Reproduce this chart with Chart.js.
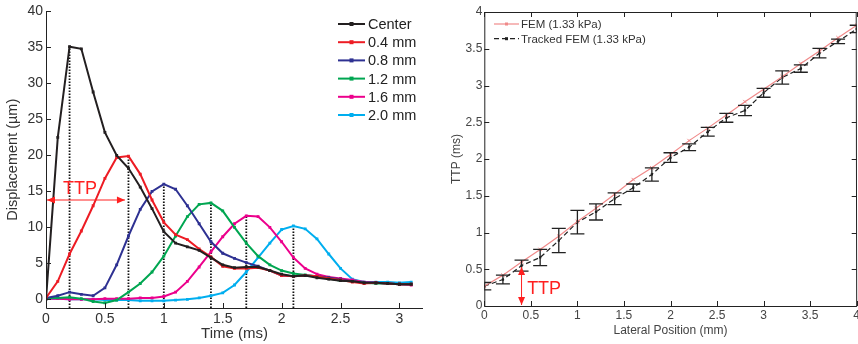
<!DOCTYPE html>
<html>
<head>
<meta charset="utf-8">
<script src="https://cdn.jsdelivr.net/npm/chart.js@4.4.1/dist/chart.umd.min.js"></script>
<style>
html, body { margin: 0; padding: 0; background: #fff; width: 858px; height: 344px; overflow: hidden; }
.box { position: absolute; top: 0; height: 344px; }
#leftBox { left: 0; width: 436px; }
#rightBox { left: 440px; width: 430px; }
</style>
</head>
<body>
<div id="leftBox" class="box"><canvas id="leftChart"></canvas></div>
<div id="rightBox" class="box"><canvas id="rightChart"></canvas></div>
<script>
// ---- left panel: displacement vs time ----
const timeMs = [0, 0.1, 0.2, 0.3, 0.4, 0.5, 0.6, 0.7, 0.8, 0.9, 1.0, 1.1, 1.2, 1.3, 1.4, 1.5,
                1.6, 1.7, 1.8, 1.9, 2.0, 2.1, 2.2, 2.3, 2.4, 2.5, 2.6, 2.7, 2.8, 2.9, 3.0, 3.1];
const dispCenter = [0, 22.5, 35.1, 34.8, 28.8, 23.2, 20.0, 18.2, 15.6, 12.6, 9.4, 7.8, 7.3, 6.8, 5.8, 4.8,
                    4.4, 4.5, 4.5, 4.0, 3.5, 3.2, 3.3, 3.0, 2.8, 2.6, 2.5, 2.3, 2.3, 2.2, 2.1, 2.1];
const disp04 = [0.2, 2.5, 6.3, 9.5, 13.0, 16.8, 19.7, 19.9, 17.4, 13.8, 10.7, 9.0, 8.3, 7.0, 5.9, 4.6,
                4.3, 4.3, 4.4, 4.0, 3.3, 3.2, 3.3, 3.2, 2.9, 2.7, 2.4, 2.2, 2.3, 2.2, 2.1, 2.1];
const disp08 = [0.2, 0.5, 1.0, 0.7, 0.5, 1.6, 4.8, 8.8, 12.5, 15.0, 16.0, 15.3, 13.0, 10.5, 8.0, 6.4,
                5.7, 5.1, 4.6, 4.0, 3.3, 3.2, 3.3, 3.2, 3.0, 2.8, 2.5, 2.3, 2.3, 2.2, 2.1, 2.1];
const disp12 = [0.2, 0.2, 0.3, 0.1, -0.3, -0.5, -0.1, 1.0, 2.2, 3.8, 6.0, 8.8, 11.5, 13.2, 13.4, 12.3,
                10.0, 7.8, 6.0, 4.8, 4.0, 3.6, 3.4, 3.2, 2.9, 2.6, 2.5, 2.3, 2.2, 2.2, 2.1, 2.1];
const disp16 = [0.1, 0.1, 0.0, 0.0, 0.0, 0.1, 0.1, 0.1, 0.2, 0.2, 0.4, 1.0, 2.5, 4.5, 6.6, 8.7,
                10.5, 11.6, 11.5, 10.0, 8.0, 5.8, 4.3, 3.5, 3.1, 2.9, 2.7, 2.4, 2.3, 2.2, 2.1, 2.0];
const disp20 = [0.1, 0.1, 0.0, 0.0, 0.0, -0.1, -0.1, -0.1, -0.2, -0.2, -0.2, -0.1, 0.0, 0.2, 0.5, 0.9,
                2.0, 3.8, 5.8, 7.8, 9.7, 10.2, 9.8, 8.4, 6.3, 4.3, 2.8, 2.4, 2.4, 2.4, 2.3, 2.4];
const seriesNames = ['Center', '0.4 mm', '0.8 mm', '1.2 mm', '1.6 mm', '2.0 mm'];
const seriesColors = ['#231f20', '#ed1c24', '#2e3192', '#00a651', '#ec008c', '#00aeef'];
const seriesValues = [dispCenter, disp04, disp08, disp12, disp16, disp20];
const peakTimes = [0.2, 0.7, 1.0, 1.4, 1.7, 2.1];
const xTicksLeft = [0, 0.5, 1, 1.5, 2, 2.5, 3];
const yTicksLeft = [0, 5, 10, 15, 20, 25, 30, 35, 40];

// ---- right panel: TTP vs lateral position ----
const lateralPos = [0, 0.2, 0.4, 0.6, 0.8, 1.0, 1.2, 1.4, 1.6, 1.8, 2.0, 2.2, 2.4, 2.6, 2.8, 3.0, 3.2, 3.4, 3.6, 3.8, 4.0];
const femTtp = [0.27, 0.42, 0.60, 0.77, 0.95, 1.15, 1.33, 1.52, 1.72, 1.88, 2.06, 2.25, 2.42, 2.60, 2.78, 2.95, 3.12, 3.30, 3.47, 3.65, 3.82];
const trackedTtp = [0.27, 0.36, 0.55, 0.66, 0.89, 1.14, 1.28, 1.46, 1.61, 1.79, 2.02, 2.16, 2.37, 2.56, 2.66, 2.90, 3.11, 3.23, 3.44, 3.60, 3.77];
const trackedErr = [0.05, 0.06, 0.075, 0.11, 0.165, 0.16, 0.11, 0.08, 0.05, 0.09, 0.065, 0.045, 0.06, 0.06, 0.07, 0.06, 0.09, 0.05, 0.065, 0.03, 0.05];
const xTicksRight = [0, 0.5, 1, 1.5, 2, 2.5, 3, 3.5, 4];
const yTicksRight = [0, 0.5, 1, 1.5, 2, 2.5, 3, 3.5, 4];

const FONT = '"Liberation Sans", Arial, sans-serif';
const TTP_RED = '#ff2020';

function pts(xs, ys) {
  return xs.map((x, i) => ({ x: x, y: ys[i] }));
}

function drawArrow(ctx, x1, y1, x2, y2, len, half) {
  const ang = Math.atan2(y2 - y1, x2 - x1);
  ctx.beginPath();
  ctx.moveTo(x1, y1);
  ctx.lineTo(x2, y2);
  ctx.stroke();
  [[x1, y1, ang + Math.PI], [x2, y2, ang]].forEach(([px, py, a]) => {
    ctx.beginPath();
    ctx.moveTo(px, py);
    ctx.lineTo(px - len * Math.cos(a) + half * Math.sin(a), py - len * Math.sin(a) - half * Math.cos(a));
    ctx.lineTo(px - len * Math.cos(a) - half * Math.sin(a), py - len * Math.sin(a) + half * Math.cos(a));
    ctx.closePath();
    ctx.fill();
  });
}

// axis lines plus inward tick marks, matlab style
const axesFrame = {
  id: 'axesFrame',
  afterDraw(chart, args, opts) {
    const { ctx, chartArea: a, scales: { x, y } } = chart;
    const len = 5;
    ctx.save();
    ctx.strokeStyle = '#222';
    ctx.lineWidth = 1;
    ctx.beginPath();
    ctx.moveTo(a.left + 0.5, a.top);
    ctx.lineTo(a.left + 0.5, a.bottom + 0.5);
    ctx.lineTo(a.right, a.bottom + 0.5);
    if (opts.box) {
      ctx.lineTo(a.right - 0.5, a.top + 0.5);
      ctx.lineTo(a.left + 0.5, a.top + 0.5);
    }
    x.ticks.forEach(t => {
      const px = Math.round(x.getPixelForValue(t.value)) + 0.5;
      ctx.moveTo(px, a.bottom);
      ctx.lineTo(px, a.bottom - len);
      if (opts.box) { ctx.moveTo(px, a.top); ctx.lineTo(px, a.top + len); }
    });
    y.ticks.forEach(t => {
      const py = Math.round(y.getPixelForValue(t.value)) + 0.5;
      ctx.moveTo(a.left, py);
      ctx.lineTo(a.left + len, py);
      if (opts.box) { ctx.moveTo(a.right, py); ctx.lineTo(a.right - len, py); }
    });
    ctx.stroke();
    ctx.restore();
  }
};

// legend and TTP note for the left panel
const leftNotes = {
  id: 'leftNotes',
  afterDraw(chart) {
    const { ctx, scales: { x, y } } = chart;
    ctx.save();
    // TTP arrow
    ctx.strokeStyle = TTP_RED;
    ctx.fillStyle = TTP_RED;
    ctx.lineWidth = 1;
    const ay = y.getPixelForValue(13.8);
    drawArrow(ctx, x.getPixelForValue(0) + 1, ay, x.getPixelForValue(0.67), ay, 8, 3.5);
    ctx.font = '18px ' + FONT;
    ctx.textBaseline = 'alphabetic';
    ctx.fillText('TTP', x.getPixelForValue(0.145), y.getPixelForValue(14.6));
    // legend
    ctx.font = '14.5px ' + FONT;
    ctx.textBaseline = 'middle';
    seriesNames.forEach((name, i) => {
      const ry = 24 + i * 18.2;
      ctx.strokeStyle = seriesColors[i];
      ctx.fillStyle = seriesColors[i];
      ctx.lineWidth = 2;
      ctx.beginPath();
      ctx.moveTo(338, ry);
      ctx.lineTo(365, ry);
      ctx.stroke();
      ctx.fillRect(349.5, ry - 2, 4, 4);
      ctx.fillStyle = '#222';
      ctx.fillText(name, 368, ry + 1);
    });
    ctx.restore();
  }
};

const leftDatasets = seriesValues.map((vals, i) => ({
  label: seriesNames[i],
  data: pts(timeMs, vals),
  borderColor: seriesColors[i],
  backgroundColor: seriesColors[i],
  borderWidth: 2,
  pointStyle: 'rect',
  pointRadius: 2,
  pointBorderWidth: 0,
  tension: 0
}));
peakTimes.forEach((t, i) => {
  const k = timeMs.indexOf(t);
  leftDatasets.push({
    label: 'peak ' + seriesNames[i],
    data: [{ x: t, y: -1.2 }, { x: t, y: seriesValues[i][k] }],
    borderColor: '#111',
    borderWidth: 1.8,
    borderDash: [1.5, 1.5],
    pointRadius: 0
  });
});

new Chart(document.getElementById('leftChart'), {
  type: 'line',
  data: { datasets: leftDatasets },
  options: {
    responsive: true,
    maintainAspectRatio: false,
    animation: false,
    layout: { padding: { left: 0, top: 9, right: 13, bottom: 0 } },
    plugins: {
      legend: { display: false },
      tooltip: { enabled: false },
      axesFrame: { box: false }
    },
    scales: {
      x: {
        type: 'linear',
        min: 0,
        max: 3.2,
        afterBuildTicks: s => { s.ticks = xTicksLeft.map(v => ({ value: v })); },
        afterFit: s => { s.height = 36; },
        grid: { display: false, drawTicks: false },
        border: { display: false },
        ticks: { padding: 3, color: '#333', font: { family: FONT, size: 14 }, callback: v => String(v), maxRotation: 0 },
        title: { display: true, text: 'Time (ms)', color: '#333', font: { family: FONT, size: 15 }, padding: { top: 0, bottom: 1 } }
      },
      y: {
        min: -1.2,
        max: 40,
        afterBuildTicks: s => { s.ticks = yTicksLeft.map(v => ({ value: v })); },
        afterFit: s => { s.width = 46; },
        grid: { display: false, drawTicks: false },
        border: { display: false },
        ticks: { padding: 3, color: '#333', font: { family: FONT, size: 14 }, callback: v => String(v) },
        title: { display: true, text: 'Displacement (\u00b5m)', color: '#333', font: { family: FONT, size: 14.5 }, padding: { top: 4, bottom: 0 } }
      }
    }
  },
  plugins: [axesFrame, leftNotes]
});

// error bars, legend and TTP note for the right panel
const rightNotes = {
  id: 'rightNotes',
  afterDatasetsDraw(chart) {
    const { ctx, chartArea: a, scales: { x, y } } = chart;
    ctx.save();
    ctx.beginPath();
    ctx.rect(a.left, a.top, a.width, a.height);
    ctx.clip();
    ctx.strokeStyle = '#222';
    ctx.lineWidth = 1.3;
    ctx.beginPath();
    lateralPos.forEach((p, i) => {
      const px = x.getPixelForValue(p);
      const hi = y.getPixelForValue(trackedTtp[i] + trackedErr[i]);
      const lo = y.getPixelForValue(trackedTtp[i] - trackedErr[i]);
      ctx.moveTo(px, hi); ctx.lineTo(px, lo);
      ctx.moveTo(px - 7, hi); ctx.lineTo(px + 7, hi);
      ctx.moveTo(px - 7, lo); ctx.lineTo(px + 7, lo);
    });
    ctx.stroke();
    ctx.restore();
  },
  afterDraw(chart) {
    const { ctx, scales: { x, y } } = chart;
    ctx.save();
    ctx.strokeStyle = TTP_RED;
    ctx.fillStyle = TTP_RED;
    ctx.lineWidth = 1;
    const ax = x.getPixelForValue(0.4);
    drawArrow(ctx, ax, y.getPixelForValue(0) - 1, ax, y.getPixelForValue(0.53), 8, 3.5);
    ctx.font = '18px ' + FONT;
    ctx.fillText('TTP', x.getPixelForValue(0.46), y.getPixelForValue(0.16));
    // legend
    ctx.font = '11.5px ' + FONT;
    ctx.textBaseline = 'middle';
    const rows = [
      { name: 'FEM (1.33 kPa)', color: '#f08a8a', dash: [], ry: 24 },
      { name: 'Tracked FEM (1.33 kPa)', color: '#222', dash: [5, 3], ry: 38.7 }
    ];
    rows.forEach(r => {
      ctx.strokeStyle = r.color;
      ctx.fillStyle = r.color;
      ctx.lineWidth = 1.2;
      ctx.setLineDash(r.dash);
      ctx.beginPath();
      ctx.moveTo(54, r.ry);
      ctx.lineTo(79, r.ry);
      ctx.stroke();
      ctx.setLineDash([]);
      ctx.fillRect(65, r.ry - 1.5, 3, 3);
      ctx.fillStyle = '#333';
      ctx.fillText(r.name, 81, r.ry + 1);
    });
    ctx.restore();
  }
};

new Chart(document.getElementById('rightChart'), {
  type: 'line',
  data: {
    datasets: [
      {
        label: 'FEM (1.33 kPa)',
        data: pts(lateralPos, femTtp),
        borderColor: '#f08a8a',
        backgroundColor: '#f08a8a',
        borderWidth: 1.2,
        pointStyle: 'crossRot',
        pointRadius: 2.5,
        pointBorderWidth: 1,
        tension: 0
      },
      {
        label: 'Tracked FEM (1.33 kPa)',
        data: pts(lateralPos, trackedTtp),
        borderColor: '#222',
        backgroundColor: '#222',
        borderWidth: 1.2,
        borderDash: [5, 3],
        pointStyle: 'rect',
        pointRadius: 1.6,
        pointBorderWidth: 0,
        tension: 0
      }
    ]
  },
  options: {
    responsive: true,
    maintainAspectRatio: false,
    animation: false,
    layout: { padding: { left: 0, top: 12, right: 13.3, bottom: 0 } },
    plugins: {
      legend: { display: false },
      tooltip: { enabled: false },
      axesFrame: { box: true }
    },
    scales: {
      x: {
        type: 'linear',
        min: 0,
        max: 4,
        afterBuildTicks: s => { s.ticks = xTicksRight.map(v => ({ value: v })); },
        afterFit: s => { s.height = 38; },
        grid: { display: false, drawTicks: false },
        border: { display: false },
        ticks: { padding: 2, color: '#444', font: { family: FONT, size: 12 }, callback: v => String(v), maxRotation: 0 },
        title: { display: true, text: 'Lateral Position (mm)', color: '#444', font: { family: FONT, size: 12 }, padding: { top: 0, bottom: 6 } }
      },
      y: {
        min: 0,
        max: 4,
        afterBuildTicks: s => { s.ticks = yTicksRight.map(v => ({ value: v })); },
        afterFit: s => { s.width = 44.3; },
        grid: { display: false, drawTicks: false },
        border: { display: false },
        ticks: { padding: 2, color: '#444', font: { family: FONT, size: 12 }, callback: v => String(v) },
        title: { display: true, text: 'TTP (ms)', color: '#444', font: { family: FONT, size: 12 }, padding: { top: 9, bottom: 0 } }
      }
    }
  },
  plugins: [axesFrame, rightNotes]
});
</script>
</body>
</html>
